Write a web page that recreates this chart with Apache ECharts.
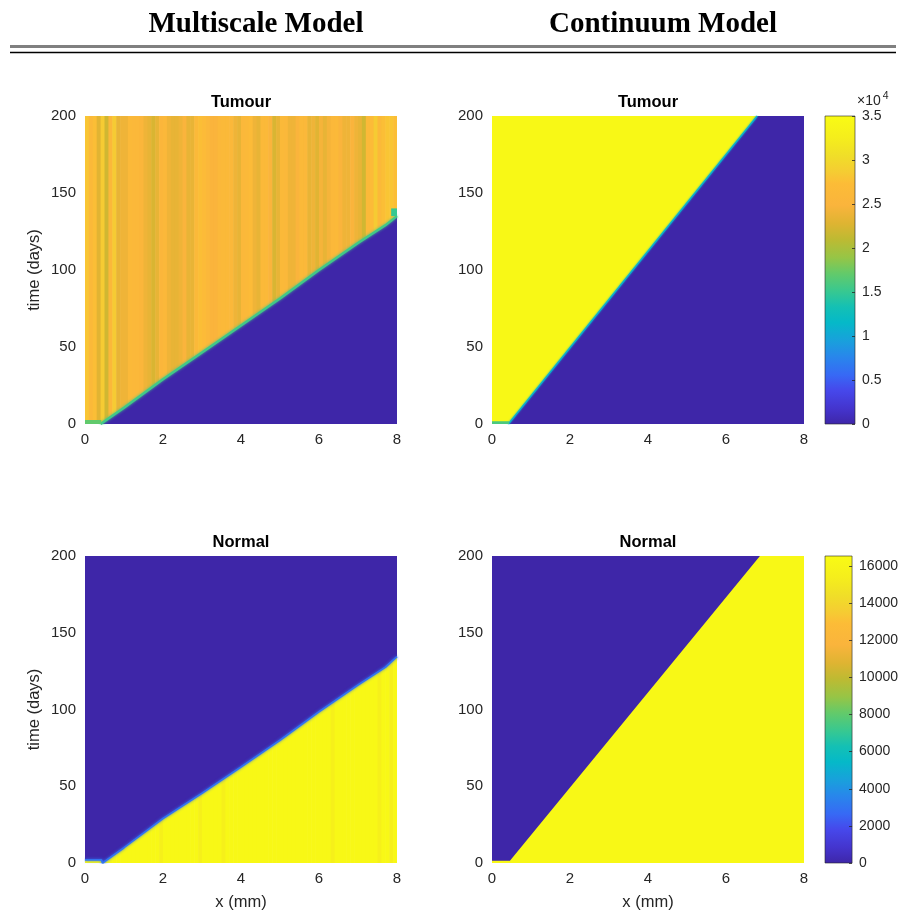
<!DOCTYPE html>
<html>
<head>
<meta charset="utf-8">
<script src="https://cdn.jsdelivr.net/npm/echarts@6/dist/echarts.min.js"></script>
<style>
  html, body { margin: 0; padding: 0; background: #ffffff; }
  #chart { width: 901px; height: 918px; }
</style>
</head>
<body>
<div id="chart"></div>
<script>
// ---- axes ----
const xTickStep = 2;          // x (mm): 0,2,4,6,8
const tTickStep = 50;         // time (days): 0..200
const xLimits = [0, 8];
const tLimits = [0, 200];

// ---- colour scales ----
const tumourMax = 35000;      // colorbar 0 .. 3.5 x10^4
const tumourTickStep = 5000;
const normalMax = 16540;      // colorbar 0 .. ~16500
const normalTickStep = 2000;

// ---- multiscale model: tumour density per 0.1 mm column (vertical stripes) ----
const stripeWidth = 0.1;
const msTumourStripes = [
  28000, 26500, 27500, 23000, 28500, 22000, 26000, 28500, 23500, 24000,
  24000, 26500, 26000, 26000, 25500, 24000, 23500, 22500, 23500, 25500,
  26000, 24000, 23500, 23500, 24000, 25000, 23500, 23500, 26500, 27500,
  27000, 26000, 25000, 25000, 26000, 26500, 26500, 26000, 24000, 23500,
  26000, 26500, 27000, 24000, 23500, 26500, 26500, 25000, 22500, 23500,
  26500, 26000, 24000, 24000, 25000, 26500, 26000, 23500, 24000, 23000,
  24500, 23500, 24500, 26000, 26500, 25000, 24000, 24000, 25000, 24000,
  23500, 22000, 26500, 27000, 28500, 26500, 27500, 28000, 28000, 27500
];
// normal density per 0.1 mm column
const msNormalStripes = [
  16300, 16300, 16300, 16300, 16300, 16300, 16300, 16300, 16300, 16300,
  16300, 16300, 16300, 16300, 16300, 16300, 16300, 16300, 16300, 15600,
  16300, 16300, 16300, 16300, 16300, 16300, 16300, 16300, 16300, 15600,
  16300, 16300, 16300, 16300, 16300, 15600, 16300, 16300, 16300, 16300,
  16300, 16300, 16300, 16300, 16300, 16300, 16300, 16300, 16300, 16300,
  16300, 16300, 16300, 16300, 16300, 16300, 16300, 16300, 16300, 16300,
  16300, 16300, 16300, 15600, 16300, 16300, 16300, 16300, 16300, 16300,
  16300, 16300, 16300, 16300, 16300, 15600, 16300, 16300, 15600, 16300
];
// invasion front (tumour panel): healthy region below the front has died out
const msFrontX = [0.4, 1, 2, 3, 4, 5, 6, 7, 7.7, 8];
const msFrontT = [0, 10.5, 29, 46.5, 64, 81.5, 100, 117.5, 129, 135];
// invasion front (normal panel): normal cells remain below this curve
const msNormalFrontX = [0, 0.42, 0.45, 1, 2, 3, 4, 5, 6, 7, 7.7, 8];
const msNormalFrontT = [2, 2, 0, 10, 29, 45.5, 62.5, 80, 98.5, 116, 127.5, 134.5];
// small patches: [x0, x1, t0, t1, value]
const msTumourPatches = [[0, 0.4, 0, 2.6, 17000], [7.85, 8, 135, 140, 15000]];

// ---- continuum model ----
const cmTumourLevel = 34500;
const cmTumourFrontX = [0.42, 6.8, 8];
const cmTumourFrontT = [0, 200, 200];
const cmTumourPatches = [[0, 0.42, 0, 1.8, 16000]];
const cmNormalLevel = 16300;
const cmNormalFrontX = [0, 0.46, 6.87, 8];
const cmNormalFrontT = [1.5, 1.5, 200, 200];

// ---- parula-like colour map ----
const cmapStops = [
  [0.00, [62, 38, 168]],  [0.05, [68, 52, 205]],  [0.11, [70, 72, 235]],
  [0.16, [55, 105, 245]], [0.22, [40, 135, 235]], [0.27, [25, 160, 220]],
  [0.33, [5, 185, 200]],  [0.38, [20, 192, 180]], [0.43, [55, 200, 145]],
  [0.49, [100, 202, 105]],[0.54, [150, 197, 70]], [0.60, [190, 186, 50]],
  [0.65, [222, 180, 50]], [0.71, [250, 180, 60]], [0.78, [252, 188, 55]],
  [0.82, [245, 205, 50]], [0.87, [240, 222, 40]], [0.93, [245, 238, 28]],
  [1.00, [249, 251, 20]]
];
function rgb(c) { return 'rgb(' + c.map(Math.round).join(',') + ')'; }
function cmap(f) {
  f = Math.max(0, Math.min(1, f));
  for (let i = 1; i < cmapStops.length; i++) {
    const a = cmapStops[i - 1], b = cmapStops[i];
    if (f <= b[0]) {
      const k = (f - a[0]) / (b[0] - a[0]);
      return rgb(a[1].map((v, j) => v + (b[1][j] - v) * k));
    }
  }
  return rgb(cmapStops[cmapStops.length - 1][1]);
}

const FONT = '"Liberation Sans", Arial, Helvetica, sans-serif';
const TXT = '#262626';

// ---- layout of the panels ----
const panels = [
  { left: 85,  top: 116, width: 312, height: 308 },  // 0 multiscale tumour
  { left: 492, top: 116, width: 312, height: 308 },  // 1 continuum tumour
  { left: 85,  top: 556, width: 312, height: 307 },  // 2 multiscale normal
  { left: 492, top: 556, width: 312, height: 307 },  // 3 continuum normal
  { left: 825, top: 116, width: 30,  height: 308 },  // 4 colorbar tumour
  { left: 825, top: 556, width: 30,  height: 307 }   // 5 colorbar normal
];

const zip = (xs, ts) => xs.map((x, i) => [x, ts[i]]);
const stripeCells = (vals) => vals.map((v, i) => [i * stripeWidth, (i + 1) * stripeWidth, tLimits[0], tLimits[1], v]);

function cellSeries(idx, cells, vmax, z) {
  return {
    type: 'custom', xAxisIndex: idx, yAxisIndex: idx, clip: true, silent: true, z: z,
    encode: { x: [0, 1], y: [2, 3] },
    data: cells,
    renderItem: function (params, api) {
      const p0 = api.coord([api.value(0), api.value(3)]);
      const p1 = api.coord([api.value(1), api.value(2)]);
      return {
        type: 'rect',
        shape: { x: p0[0], y: p0[1], width: p1[0] - p0[0] + 0.6, height: p1[1] - p0[1] },
        style: { fill: cmap(api.value(4) / vmax) }
      };
    }
  };
}

function frontSeries(idx, pts, fillColor, origin, strokeColor, strokeWidth, z) {
  return {
    type: 'line', xAxisIndex: idx, yAxisIndex: idx, silent: true, z: z,
    symbol: 'none', showSymbol: false, clip: true,
    data: pts,
    lineStyle: strokeWidth > 0
      ? { color: strokeColor, width: strokeWidth, shadowBlur: 3, shadowColor: strokeColor }
      : { width: 0, opacity: 0 },
    areaStyle: fillColor ? { color: fillColor, opacity: 1, origin: origin } : undefined
  };
}

function strokeSeries(idx, pts, color, width, z) {
  return {
    type: 'line', xAxisIndex: idx, yAxisIndex: idx, silent: true, z: z,
    symbol: 'none', showSymbol: false, clip: true, data: pts,
    lineStyle: { color: color, width: width, shadowBlur: 2, shadowColor: color }
  };
}

function colorbarSeries(idx, vmax) {
  const grad = new echarts.graphic.LinearGradient(0, 1, 0, 0,
    cmapStops.map(s => ({ offset: s[0], color: rgb(s[1]) })));
  return {
    type: 'custom', xAxisIndex: idx, yAxisIndex: idx, silent: true, z: 1,
    encode: { x: [0, 1], y: [2, 3] },
    data: [[0, 1, 0, vmax]],
    renderItem: function (params, api) {
      const p0 = api.coord([api.value(0), api.value(3)]);
      const p1 = api.coord([api.value(1), api.value(2)]);
      return {
        type: 'rect',
        shape: { x: p0[0], y: p0[1], width: p1[0] - p0[0], height: p1[1] - p0[1] },
        style: { fill: grad, stroke: TXT, lineWidth: 0.6 }
      };
    }
  };
}

const xAxes = [], yAxes = [];
for (let i = 0; i < 4; i++) {
  xAxes.push({
    type: 'value', gridIndex: i, min: xLimits[0], max: xLimits[1], interval: xTickStep,
    axisLine: { show: false }, axisTick: { show: false }, splitLine: { show: false },
    axisLabel: { fontSize: 15, color: TXT, fontFamily: FONT, margin: 8 },
    name: i >= 2 ? 'x (mm)' : '', nameLocation: 'middle', nameGap: 31,
    nameTextStyle: { fontSize: 16.5, color: TXT, fontFamily: FONT }
  });
  yAxes.push({
    type: 'value', gridIndex: i, min: tLimits[0], max: tLimits[1], interval: tTickStep,
    axisLine: { show: false }, axisTick: { show: false }, splitLine: { show: false },
    axisLabel: { fontSize: 15, color: TXT, fontFamily: FONT, margin: 9 },
    name: (i === 0 || i === 2) ? 'time (days)' : '', nameLocation: 'middle', nameGap: 42,
    nameTextStyle: { fontSize: 16.5, color: TXT, fontFamily: FONT }
  });
}
[[4, tumourMax, tumourTickStep, v => String(v / 10000), true],
 [5, normalMax, normalTickStep, v => String(v), false]].forEach(([i, vmax, step, fmt, showMax]) => {
  xAxes.push({ type: 'value', gridIndex: i, min: 0, max: 1, show: false });
  yAxes.push({
    type: 'value', gridIndex: i, position: 'right', min: 0, max: vmax, interval: step, z: 10,
    axisLine: { show: false, onZero: false }, splitLine: { show: false },
    axisTick: { show: true, inside: true, length: 3, lineStyle: { color: TXT, width: 0.8 } },
    axisLabel: { fontSize: 14, color: TXT, fontFamily: FONT, margin: 7, formatter: fmt, showMaxLabel: showMax }
  });
});

const darkTumour = cmap(0);
const option = {
  animation: false,
  backgroundColor: '#ffffff',
  grid: panels.map(p => Object.assign({ containLabel: false }, p)),
  xAxis: xAxes,
  yAxis: yAxes,
  series: [
    // multiscale tumour
    cellSeries(0, stripeCells(msTumourStripes), tumourMax, 1),
    frontSeries(0, zip(msFrontX, msFrontT), darkTumour, 'start', cmap(15500 / tumourMax), 2.4, 2),
    cellSeries(0, msTumourPatches, tumourMax, 3),
    // continuum tumour
    cellSeries(1, [[xLimits[0], xLimits[1], tLimits[0], tLimits[1], cmTumourLevel]], tumourMax, 1),
    frontSeries(1, zip(cmTumourFrontX, cmTumourFrontT), darkTumour, 'start', null, 0, 2),
    strokeSeries(1, zip(cmTumourFrontX, cmTumourFrontT).slice(0, 2), cmap(11000 / tumourMax), 1.4, 3),
    cellSeries(1, cmTumourPatches, tumourMax, 4),
    // multiscale normal
    cellSeries(2, stripeCells(msNormalStripes), normalMax, 1),
    frontSeries(2, zip(msNormalFrontX, msNormalFrontT), cmap(0), 'end', cmap(3000 / normalMax), 1.8, 2),
    // continuum normal
    cellSeries(3, [[xLimits[0], xLimits[1], tLimits[0], tLimits[1], 0]], normalMax, 1),
    frontSeries(3, zip(cmNormalFrontX, cmNormalFrontT), cmap(cmNormalLevel / normalMax), 'start', null, 0, 2),
    // colorbars
    colorbarSeries(4, tumourMax),
    colorbarSeries(5, normalMax)
  ],
  graphic: [
    { type: 'text', x: 256, y: 25, style: { text: 'Multiscale Model', font: 'bold 29px "Liberation Serif", "Times New Roman", serif', fill: '#000', textAlign: 'center', textVerticalAlign: 'middle' } },
    { type: 'text', x: 663, y: 25, style: { text: 'Continuum Model', font: 'bold 29px "Liberation Serif", "Times New Roman", serif', fill: '#000', textAlign: 'center', textVerticalAlign: 'middle' } },
    { type: 'line', shape: { x1: 10, y1: 46.5, x2: 896, y2: 46.5 }, style: { stroke: '#808080', lineWidth: 3 } },
    { type: 'line', shape: { x1: 10, y1: 52.5, x2: 896, y2: 52.5 }, style: { stroke: '#000000', lineWidth: 1.5 } },
    { type: 'text', x: 241, y: 102.5, style: { text: 'Tumour', font: 'bold 16.5px ' + FONT, fill: '#000', textAlign: 'center', textVerticalAlign: 'middle' } },
    { type: 'text', x: 648, y: 102.5, style: { text: 'Tumour', font: 'bold 16.5px ' + FONT, fill: '#000', textAlign: 'center', textVerticalAlign: 'middle' } },
    { type: 'text', x: 241, y: 542.5, style: { text: 'Normal', font: 'bold 16.5px ' + FONT, fill: '#000', textAlign: 'center', textVerticalAlign: 'middle' } },
    { type: 'text', x: 648, y: 542.5, style: { text: 'Normal', font: 'bold 16.5px ' + FONT, fill: '#000', textAlign: 'center', textVerticalAlign: 'middle' } },
    { type: 'text', x: 857, y: 101, style: {
        text: '×10{sup|4}', fill: TXT, textAlign: 'left', textVerticalAlign: 'middle',
        font: '14px ' + FONT,
        rich: { sup: { fontSize: 10.5, fontFamily: FONT, fill: TXT, padding: [0, 0, 9, 2] } }
      } }
  ]
};

const chart = echarts.init(document.getElementById('chart'), null, { renderer: 'canvas' });
chart.setOption(option);
</script>
</body>
</html>
